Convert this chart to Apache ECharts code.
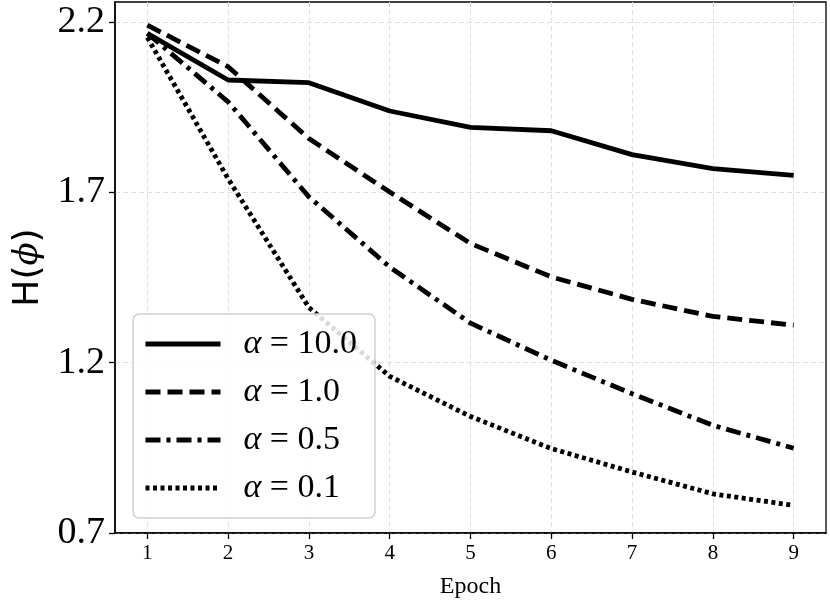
<!DOCTYPE html>
<html>
<head>
<meta charset="utf-8">
<script src="https://cdn.jsdelivr.net/npm/echarts@6/dist/echarts.min.js"></script>
<style>
  html, body { margin: 0; padding: 0; background: #fff; }
  #chart { width: 830px; height: 603px; }
</style>
</head>
<body>
<div id="chart"></div>
<script>
// epochs and entropy per alpha
var epochs = [1, 2, 3, 4, 5, 6, 7, 8, 9];
var alpha10 = [2.167, 2.030, 2.022, 1.939, 1.891, 1.881, 1.811, 1.770, 1.750];
var alpha1 = [2.191, 2.069, 1.858, 1.701, 1.550, 1.452, 1.386, 1.336, 1.310];
var alpha05 = [2.167, 1.966, 1.687, 1.481, 1.316, 1.207, 1.109, 1.016, 0.949];
var alpha01 = [2.155, 1.740, 1.362, 1.160, 1.042, 0.948, 0.879, 0.815, 0.781];
var yTicks = [0.7, 1.2, 1.7, 2.2];
var names = ['10.0', '1.0', '0.5', '0.1'];

var serif = 'Liberation Serif';

function pairs(ys) {
  return epochs.map(function (x, i) { return [x, ys[i]]; });
}

function mkSeries(label, ys, dash) {
  return {
    name: label,
    type: 'line',
    data: pairs(ys),
    symbol: 'none',
    lineStyle: { color: '#000', width: 4.8, type: dash, cap: 'butt' },
    itemStyle: { color: '#000' },
    z: 3
  };
}

var chart = echarts.init(document.getElementById('chart'));
chart.setOption({
  animation: false,
  grid: { left: 115, right: 4, top: 2, bottom: 70, outerBoundsMode: 'none',
    show: true, borderColor: '#000', borderWidth: 1.3 },
  legend: {
    orient: 'vertical',
    left: 133,
    top: 314,
    itemWidth: 75,
    itemHeight: 2,
    itemGap: 8,
    padding: [10, 18, 10, 10],
    borderColor: '#d0d0d0',
    borderWidth: 1.5,
    borderRadius: 6,
    backgroundColor: 'rgba(255,255,255,0.85)',
    itemStyle: { opacity: 0 },
    lineStyle: { width: 5 },
    data: names,
    formatter: function (n) { return '{a|α} = ' + n; },
    textStyle: {
      fontFamily: serif,
      fontSize: 34,
      color: '#000',
      lineHeight: 40,
      padding: [0, 0, 0, 18],
      rich: { a: { fontFamily: serif, fontStyle: 'italic', fontSize: 34 } }
    }
  },
  xAxis: {
    type: 'value',
    min: 0.6,
    max: 9.4,
    name: 'Epoch',
    nameLocation: 'middle',
    nameGap: 42,
    nameTextStyle: { fontFamily: serif, fontSize: 24, color: '#000' },
    axisLine: { lineStyle: { color: '#000', width: 1.5 } },
    axisTick: { length: 6, lineStyle: { color: '#000', width: 1.3 }, customValues: epochs },
    axisLabel: { fontFamily: serif, fontSize: 21, color: '#000', margin: 10, customValues: epochs },
    splitLine: { show: true, lineStyle: { color: '#e0e0e0', width: 1, type: [5, 3] } }
  },
  yAxis: {
    type: 'value',
    min: 0.7,
    max: 2.259,
    name: '{h|H}({p|ϕ})',
    nameLocation: 'middle',
    nameGap: 68,
    nameRotate: 90,
    nameTextStyle: {
      fontFamily: 'DejaVu Sans',
      fontSize: 36,
      color: '#000',
      rich: {
        h: { fontFamily: 'DejaVu Sans', fontSize: 36 },
        p: { fontFamily: 'DejaVu Serif', fontStyle: 'italic', fontSize: 34 }
      }
    },
    axisLine: { show: true, lineStyle: { color: '#000', width: 1.5 } },
    axisTick: { show: true, length: 6, lineStyle: { color: '#000', width: 1.3 }, customValues: yTicks },
    axisLabel: { fontFamily: serif, fontSize: 38, color: '#000', margin: 10, customValues: yTicks,
      formatter: function (v) { return v.toFixed(1); } },
    splitLine: { show: true, lineStyle: { color: '#e0e0e0', width: 1, type: [5, 3] } }
  },
  series: [
    mkSeries(names[0], alpha10, 'solid'),
    mkSeries(names[1], alpha1, [15, 7]),
    mkSeries(names[2], alpha05, [15, 6, 4, 6]),
    mkSeries(names[3], alpha01, [4, 3.5])
  ]
});
</script>
</body>
</html>
